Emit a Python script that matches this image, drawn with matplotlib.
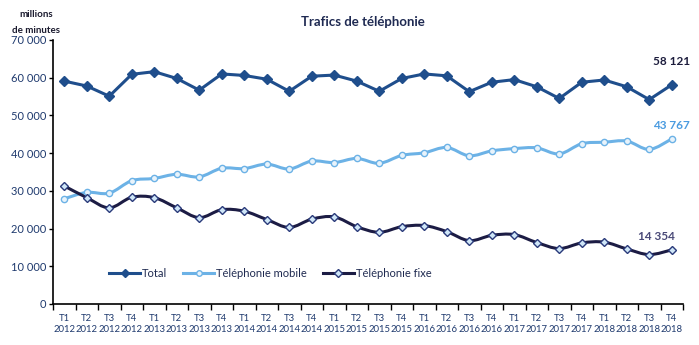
import numpy as np
import matplotlib
matplotlib.use("Agg")
import matplotlib.pyplot as plt
from matplotlib.path import Path
from matplotlib.patches import PathPatch
from matplotlib.lines import Line2D

quarters = ["T1", "T2", "T3", "T4"] * 7
years = [str(y) for y in range(2012, 2019) for _ in range(4)]

total = [59100, 57800, 55100, 60900, 61600, 59800, 56700, 61000, 60600, 59600, 56400, 60400,
         60700, 59100, 56400, 59800, 61000, 60500, 56300, 58800, 59500, 57600, 54500, 58800,
         59400, 57600, 54200, 58121]
mobile = [27900, 29600, 29400, 32700, 33300, 34400, 33700, 36000, 35900, 37100, 35800, 37900,
          37500, 38600, 37300, 39400, 40100, 41500, 39300, 40600, 41200, 41400, 39800, 42500,
          42900, 43200, 41000, 43767]
fixe = [31300, 28200, 25500, 28300, 28200, 25500, 22900, 25000, 24600, 22400, 20300, 22500,
        23100, 20500, 19000, 20500, 20800, 19200, 16800, 18200, 18400, 16300, 14700, 16200,
        16400, 14600, 13100, 14354]

C_TOTAL = "#1f4e8c"
C_MOB = "#6cb2e6"
C_FIXE = "#1c1c44"
C_TXT = "#1f3a6e"

plt.rcParams['font.family'] = ['Lato', 'DejaVu Sans']

fig = plt.figure(figsize=(6.99, 3.45), dpi=100)
ax = fig.add_axes([53/699, 1-304/345, 630/699, 264/345])

x = np.arange(len(total))


def smooth_path(xs, ys, t=1/6):
    xs = np.asarray(xs, float); ys = np.asarray(ys, float)
    n = len(xs)
    verts = [(xs[0], ys[0])]
    codes = [Path.MOVETO]
    for i in range(n - 1):
        p0 = (xs[max(i-1, 0)], ys[max(i-1, 0)])
        p1 = (xs[i], ys[i]); p2 = (xs[i+1], ys[i+1])
        p3 = (xs[min(i+2, n-1)], ys[min(i+2, n-1)])
        c1 = (p1[0] + (p2[0]-p0[0])*t, p1[1] + (p2[1]-p0[1])*t)
        c2 = (p2[0] - (p3[0]-p1[0])*t, p2[1] - (p3[1]-p1[1])*t)
        verts += [c1, c2, p2]
        codes += [Path.CURVE4]*3
    return Path(verts, codes)

# Total: straight line with filled diamonds
ax.plot(x, total, color=C_TOTAL, lw=2.2, marker="D", ms=5, mfc=C_TOTAL, mec=C_TOTAL, zorder=4)

# Mobile: smoothed line with light circle markers
ax.add_patch(PathPatch(smooth_path(x, mobile), fill=False, ec=C_MOB, lw=2.2, zorder=3))
ax.plot(x, mobile, ls="none", marker="o", ms=4.5, mfc="#e8f3fb", mec=C_MOB, mew=1.0, zorder=4)

# Fixe: smoothed line with light diamonds
ax.add_patch(PathPatch(smooth_path(x, fixe), fill=False, ec=C_FIXE, lw=2.2, zorder=3))
ax.plot(x, fixe, ls="none", marker="D", ms=4.0, mfc="#cfe6f7", mec="#2a3a7a", mew=1.0, zorder=4)

ax.set_xlim(-0.5, len(total) - 0.5)
ax.set_ylim(0, 70000)
ax.set_yticks(np.arange(0, 70001, 10000))
ax.set_yticklabels(["0" if v == 0 else f"{v//1000} 000" for v in range(0, 70001, 10000)],
                   fontsize=8, color=C_TXT)
ax.set_xticks(x)
ax.set_xticklabels([f"{q}\n{y}" for q, y in zip(quarters, years)], fontsize=6.8,
                   color=C_TXT, linespacing=1.35)
ax.set_xticks(np.arange(-0.5, len(total)), minor=True)
ax.tick_params(axis="x", which="major", length=0, pad=7)
ax.tick_params(axis="x", which="minor", length=4, width=1, color="black", direction="out")
ax.tick_params(axis="y", length=3, width=1, color="black", pad=2)
for s in ["top", "right"]:
    ax.spines[s].set_visible(False)
for s in ["left", "bottom"]:
    ax.spines[s].set_linewidth(1.2)

ax.annotate("58 121", (x[-1], total[-1]), xytext=(0, 13), textcoords="offset points",
            ha="center", va="bottom", fontsize=8.5, fontweight="bold", color="#1c1c3c")
ax.annotate("43 767", (x[-1], mobile[-1]), xytext=(0, 6), textcoords="offset points",
            ha="center", va="bottom", fontsize=8.5, fontweight="bold", color="#4a9be0")
ax.annotate("14 354", (x[-1], fixe[-1]), xytext=(-11, 6), textcoords="offset points",
            ha="center", va="bottom", fontsize=8.5, fontweight="bold", color="#4a4a78")

handles = [
    Line2D([], [], color=C_TOTAL, lw=2.2, marker="D", ms=4.5, mfc=C_TOTAL, mec=C_TOTAL),
    Line2D([], [], color=C_MOB, lw=2.2, marker="o", ms=4, mfc="#e8f3fb", mec=C_MOB),
    Line2D([], [], color=C_FIXE, lw=2.2, marker="D", ms=4, mfc="#cfe6f7", mec="#2a3a7a"),
]
leg = ax.legend(handles, ["Total", "Téléphonie mobile", "Téléphonie fixe"], loc="center",
                bbox_to_anchor=(0.345, 0.117), ncol=3, frameon=False, fontsize=8,
                handlelength=2.8, handletextpad=0.2, columnspacing=1.4)
for t in leg.get_texts():
    t.set_color("#1f2a50")

fig.text(0.519, 0.935, "Trafics de téléphonie", ha="center", va="center",
         fontsize=9.5, fontweight="bold", color="#1f2a52")
fig.text(0.052, 0.958, "millions", ha="center", va="center", fontsize=7,
         fontweight="bold", color="#1a1a2e")
fig.text(0.052, 0.912, "de minutes", ha="center", va="center", fontsize=7,
         fontweight="bold", color="#1a1a2e")

fig.savefig("out.png", dpi=100)
